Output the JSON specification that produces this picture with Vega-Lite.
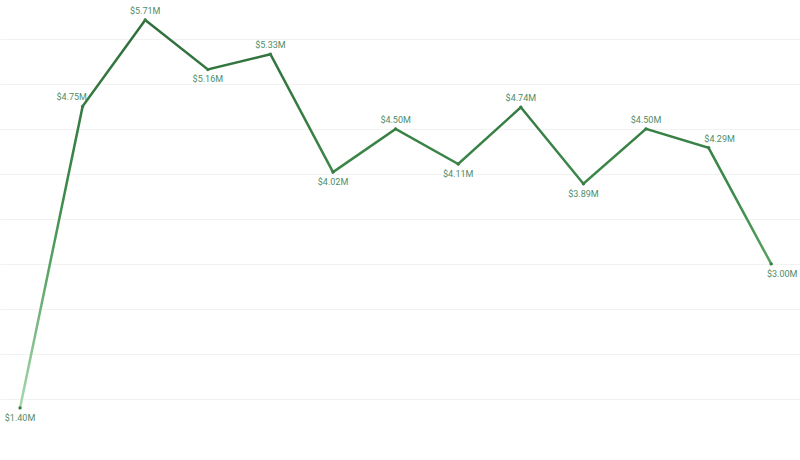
{
  "$schema": "https://vega.github.io/schema/vega-lite/v6.json",
  "width": 800,
  "height": 460,
  "autosize": {"type": "fit", "contains": "padding"},
  "padding": 0,
  "background": "white",
  "data": {
    "values": [
      {"period": 1, "sales": 1.40, "label": "$1.40M"},
      {"period": 2, "sales": 4.75, "label": "$4.75M"},
      {"period": 3, "sales": 5.71, "label": "$5.71M"},
      {"period": 4, "sales": 5.16, "label": "$5.16M"},
      {"period": 5, "sales": 5.33, "label": "$5.33M"},
      {"period": 6, "sales": 4.02, "label": "$4.02M"},
      {"period": 7, "sales": 4.50, "label": "$4.50M"},
      {"period": 8, "sales": 4.11, "label": "$4.11M"},
      {"period": 9, "sales": 4.74, "label": "$4.74M"},
      {"period": 10, "sales": 3.89, "label": "$3.89M"},
      {"period": 11, "sales": 4.50, "label": "$4.50M"},
      {"period": 12, "sales": 4.29, "label": "$4.29M"},
      {"period": 13, "sales": 3.00, "label": "$3.00M"}
    ]
  },
  "encoding": {
    "x": {
      "field": "period",
      "type": "quantitative",
      "scale": {"domain": [0.68, 13.46], "nice": false, "zero": false},
      "axis": null
    },
    "y": {
      "field": "sales",
      "type": "quantitative",
      "scale": {"domain": [0.821, 5.932], "nice": false, "zero": false},
      "axis": {
        "values": [1.5, 2, 2.5, 3, 3.5, 4, 4.5, 5, 5.5],
        "labels": false,
        "ticks": false,
        "domain": false,
        "title": null,
        "grid": true,
        "gridColor": "#f2f2f2",
        "gridWidth": 1
      }
    }
  },
  "layer": [
    {
      "mark": {
        "type": "line",
        "strokeWidth": 2.5,
        "color": {
          "gradient": "linear",
          "x1": 0, "y1": 0, "x2": 0, "y2": 1,
          "stops": [
            {"offset": 0, "color": "#2e6e3a"},
            {"offset": 0.45, "color": "#3d8a4a"},
            {"offset": 0.65, "color": "#5aa466"},
            {"offset": 1, "color": "#a8d8ae"}
          ]
        }
      }
    },
    {
      "mark": {"type": "point", "filled": true, "size": 12, "color": "#3a7f47", "opacity": 1}
    },
    {
      "transform": [{"filter": "indexof([3, 5, 7, 9, 11], datum.period) >= 0"}],
      "mark": {"type": "text", "dy": -9, "fontSize": 9, "font": "Roboto", "color": "#4f8c68"},
      "encoding": {"text": {"field": "label"}}
    },
    {
      "transform": [{"filter": "indexof([1, 4, 6, 8, 10], datum.period) >= 0"}],
      "mark": {"type": "text", "dy": 10, "fontSize": 9, "font": "Roboto", "color": "#4f8c68"},
      "encoding": {"text": {"field": "label"}}
    },
    {
      "transform": [{"filter": "datum.period == 2"}],
      "mark": {"type": "text", "dx": -11, "dy": -9, "fontSize": 9, "font": "Roboto", "color": "#4f8c68"},
      "encoding": {"text": {"field": "label"}}
    },
    {
      "transform": [{"filter": "datum.period == 12"}],
      "mark": {"type": "text", "dx": 11, "dy": -9, "fontSize": 9, "font": "Roboto", "color": "#4f8c68"},
      "encoding": {"text": {"field": "label"}}
    },
    {
      "transform": [{"filter": "datum.period == 13"}],
      "mark": {"type": "text", "dx": 11, "dy": 10, "fontSize": 9, "font": "Roboto", "color": "#4f8c68"},
      "encoding": {"text": {"field": "label"}}
    }
  ],
  "config": {"view": {"stroke": null}}
}
